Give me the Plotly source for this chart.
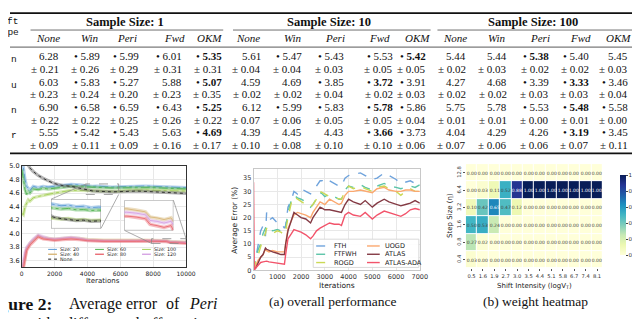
import plotly.graph_objects as go

W, H = 640, 319
def X(p): return p / W
def Y(p): return 1 - p / H

# ---------------- table data ----------------
group_titles = ["Sample Size: 1", "Sample Size: 10", "Sample Size: 100"]
method_names = ["None", "Win", "Peri", "Fwd", "OKM"]
row_tails = ["n", "u", "n", "r"]

mean_ss1 = [[6.28, 5.89, 5.99, 6.01, 5.35], [6.03, 5.83, 5.27, 5.88, 5.07],
            [6.90, 6.58, 6.59, 6.43, 5.25], [5.55, 5.42, 5.43, 5.63, 4.69]]
std_ss1 = [[0.21, 0.26, 0.29, 0.31, 0.31], [0.23, 0.24, 0.20, 0.23, 0.35],
           [0.22, 0.22, 0.25, 0.26, 0.22], [0.09, 0.11, 0.09, 0.16, 0.17]]
mark_ss1 = [[0, 1, 1, 1, 1], [0, 1, 1, 0, 1], [0, 1, 1, 1, 1], [0, 1, 1, 0, 1]]
best_ss1 = [4, 4, 4, 4]

mean_ss10 = [[5.61, 5.47, 5.43, 5.53, 5.42], [4.59, 4.69, 3.85, 3.72, 3.91],
             [6.12, 5.99, 5.83, 5.78, 5.86], [4.39, 4.45, 4.43, 3.66, 3.73]]
std_ss10 = [[0.04, 0.04, 0.03, 0.05, 0.05], [0.02, 0.02, 0.04, 0.02, 0.03],
            [0.07, 0.06, 0.05, 0.05, 0.04], [0.10, 0.08, 0.10, 0.10, 0.06]]
mark_ss10 = [[0, 1, 1, 1, 1], [0, 0, 1, 1, 1], [0, 1, 1, 1, 1], [0, 0, 0, 1, 1]]
best_ss10 = [4, 3, 3, 3]

mean_ss100 = [[5.44, 5.44, 5.38, 5.40, 5.45], [4.27, 4.68, 3.39, 3.33, 3.46],
              [5.75, 5.78, 5.53, 5.48, 5.58], [4.04, 4.29, 4.26, 3.19, 3.45]]
std_ss100 = [[0.02, 0.03, 0.02, 0.02, 0.03], [0.02, 0.02, 0.03, 0.03, 0.04],
             [0.01, 0.01, 0.00, 0.01, 0.00], [0.07, 0.06, 0.06, 0.07, 0.11]]
mark_ss100 = [[0, 0, 1, 1, 0], [0, 0, 1, 1, 1], [0, 0, 1, 1, 1], [0, 0, 0, 1, 1]]
best_ss100 = [2, 3, 3, 3]

# ---------------- Figure 2 (buffer sizes) data ----------------
it_upper = [0, 100, 200, 300, 400, 500, 700, 1000, 1300, 1600, 2000, 2500, 3000, 3500,
            4000, 4300, 4600, 4900, 5200, 5500, 5800, 6500, 7000, 7500, 8000, 8500, 9000, 9500, 10000]
err_size20 = [5.15, 4.95, 4.80, 4.70, 4.66, 4.64, 4.70, 4.68, 4.70, 4.69, 4.70, 4.71, 4.73, 4.72,
              4.705, 4.700, 4.703, 4.695, 4.697, 4.690, 4.693, 4.700, 4.710, 4.705, 4.700, 4.695, 4.690, 4.685, 4.680]
err_size60 = [4.95, 4.80, 4.65, 4.58, 4.62, 4.60, 4.66, 4.65, 4.67, 4.66, 4.67, 4.68, 4.70, 4.695,
              4.688, 4.683, 4.686, 4.679, 4.680, 4.675, 4.677, 4.680, 4.685, 4.680, 4.680, 4.675, 4.670, 4.665, 4.660]
err_size100 = [4.30, 4.28, 4.40, 4.45, 4.50, 4.48, 4.53, 4.55, 4.57, 4.58, 4.60, 4.62, 4.64, 4.64,
               4.635, 4.630, 4.632, 4.625, 4.627, 4.622, 4.624, 4.640, 4.645, 4.645, 4.640, 4.640, 4.635, 4.635, 4.630]
err_none = [5.40, 5.25, 5.15, 5.05, 5.00, 4.97, 4.92, 4.86, 4.82, 4.78, 4.74, 4.71, 4.70, 4.67,
            4.640, 4.632, 4.628, 4.622, 4.624, 4.618, 4.620, 4.630, 4.630, 4.625, 4.620, 4.615, 4.610, 4.600, 4.595]

it_lower = [0, 100, 200, 300, 500, 700, 1000, 1300, 1600, 2000, 2500, 3000, 3500, 4000, 5000,
            6000, 7000, 7500, 8000, 8400, 8800, 9000, 9300, 9600, 9900, 10000]
err_size40 = [3.40, 3.55, 3.70, 3.78, 3.86, 3.90, 3.97, 3.94, 3.93, 3.92, 3.93, 3.94, 3.93, 3.915, 3.905,
              3.900, 3.905, 3.905, 3.905, 3.902, 3.898, 3.886, 3.884, 3.880, 3.884, 3.875]
err_size80 = [3.35, 3.50, 3.65, 3.75, 3.83, 3.88, 3.95, 3.92, 3.91, 3.90, 3.91, 3.92, 3.91, 3.895, 3.885,
              3.880, 3.885, 3.888, 3.888, 3.886, 3.882, 3.869, 3.866, 3.862, 3.866, 3.855]
err_size120 = [3.45, 3.60, 3.72, 3.80, 3.87, 3.92, 3.98, 3.95, 3.93, 3.92, 3.93, 3.945, 3.93, 3.905, 3.895,
               3.890, 3.895, 3.897, 3.897, 3.895, 3.891, 3.878, 3.876, 3.872, 3.876, 3.868]

zoom1_x = [3900, 5900]
zoom1_y = [4.58, 4.735]
zoom2_x = [7900, 10000]
zoom2_y = [3.855, 3.925]

# ---------------- (a) overall performance data ----------------
it_a = [0, 30, 100, 200, 300, 400, 500, 550, 650, 800, 1000, 1150, 1300, 1350, 1450, 1600, 1700, 1850,
        2000, 2200, 2400, 2500, 2650, 2800, 2900, 3000, 3200, 3400, 3600, 3700, 3850, 4000, 4200, 4500,
        4700, 5000, 5200, 5500, 5700, 6000, 6200, 6400, 6600, 6800, 7000]
err_fth = [0, 2, 5, 10, 15, 17, 13, 22, 19, 20, 18, 18, 16, 17, 24, 27, 30, 29, 31, 30, 29, 30, 32, 34,
           34, 33, 34, 33, 32, 32, 35, 36, 36.5, 37, 36, 34.5, 35, 37, 36, 34.5, 33, 33.5, 34, 33, 33.5]
err_ftfwh = [0, 2, 5, 8, 10, 14, 16, 17, 16, 15, 15.5, 15, 14.5, 16, 22, 27, 28.5, 27.5, 27, 26, 24, 25,
             27, 29.5, 29, 28, 29, 28, 27, 27, 30.5, 32, 31.5, 32.5, 31.5, 30.5, 32, 33, 32, 31.5, 31,
             31.5, 32, 31.5, 32.5]
err_rogd = [0, 1.5, 4, 6, 9, 12, 14, 16, 15, 14, 15, 14.5, 13.5, 15, 20, 26, 28, 27, 26, 25, 24, 25, 27,
            30, 29.5, 29, 28, 27.5, 27, 27, 30, 32, 31, 32, 31, 30, 31.5, 32, 31, 30, 28.5, 30, 31, 30, 30]
err_uogd = [0, 1, 2, 4, 5, 6, 8, 7.5, 7, 7.5, 7, 7, 7, 10, 16, 19, 21, 22, 21.5, 21, 20, 22, 24, 26,
            25.5, 25, 27, 26, 25, 25.5, 28.5, 30, 30, 30.5, 30, 29.5, 31, 31.5, 30.5, 30, 30, 30.5, 30.5, 30, 30]
err_atlas = [0, 0.5, 1, 3, 5, 6, 8.5, 8, 7.5, 7, 6.5, 6, 6, 10, 15, 19, 22, 21, 20, 19.5, 18, 20, 22, 24,
             23.5, 23, 23, 22.5, 22, 22, 25, 27, 26, 25, 26.5, 24, 25.5, 27, 26, 25, 24.5, 25, 25.5, 26.5, 25.5]
err_atlas_ada = [33.5, 0, 1, 2, 3, 3.2, 3.5, 3.5, 3.2, 3, 2.8, 2.6, 2.3, 6, 12, 14, 15.5, 15, 14.5, 13.5,
                 12, 13, 15, 16, 16.5, 17, 18, 17.5, 17.5, 17, 21, 22, 21, 20.5, 22, 19.5, 21, 22.5, 22,
                 21, 20.5, 21.5, 23, 23.5, 23]

# ---------------- (b) weight heatmap data ----------------
hm_x = ["0.5", "1.6", "1.9", "2.7", "3.0", "3.5", "4.4", "5.1", "5.8", "6.7", "7.4", "8.1"]
hm_y = ["12.8", "6.4", "3.2", "1.6", "0.8", "0.4"]
hm_z = [
    [0.00, 0.00, 0.00, 0.00, 0.00, 0.00, 0.00, 0.00, 0.00, 0.00, 0.00, 0.00],
    [0.00, 0.03, 0.11, 0.52, 0.88, 1.00, 1.00, 1.00, 1.00, 1.00, 1.00, 1.00],
    [0.10, 0.42, 0.65, 0.47, 0.12, 0.00, 0.00, 0.00, 0.00, 0.00, 0.00, 0.00],
    [0.50, 0.53, 0.24, 0.00, 0.00, 0.00, 0.00, 0.00, 0.00, 0.00, 0.00, 0.00],
    [0.27, 0.02, 0.00, 0.00, 0.00, 0.00, 0.00, 0.00, 0.00, 0.00, 0.00, 0.00],
    [0.03, 0.00, 0.00, 0.00, 0.00, 0.00, 0.00, 0.00, 0.00, 0.00, 0.00, 0.00],
]

# ================= build =================
annotations = []
shapes = []
SERIF = "Liberation Serif"
SANS = "DejaVu Sans"

def add_text(x, y, text, size, family=SERIF, xanchor="center", yanchor="middle",
             color="#111", angle=0):
    annotations.append(dict(x=X(x), y=Y(y), xref="paper", yref="paper", text=text,
                            showarrow=False, xanchor=xanchor, yanchor=yanchor, textangle=angle,
                            borderpad=0, font=dict(family=family, size=size, color=color)))

def hline(x0, x1, y, w, color="#111", dash="solid"):
    shapes.append(dict(type="line", xref="paper", yref="paper", x0=X(x0), x1=X(x1),
                       y0=Y(y), y1=Y(y), line=dict(color=color, width=w, dash=dash)))

# ---- table ----
col_right = [[51, 93, 133, 177, 218], [258, 300, 342, 393, 426], [467, 509, 552, 593, 633]]
head_center = [[39, 82, 120, 168, 204], [243, 289, 332, 378, 417], [455, 498, 542, 583, 622]]
group_center = [118, 326, 535]
group_span = [(21, 218), (228, 430), (437, 640)]
mean_y = [45.5, 71.5, 97.5, 123.5]
std_y = [58.5, 84.5, 110.5, 136.5]

hline(0, 640, 1.2, 1.6)
hline(0, 640, 36, 0.7)
hline(0, 640, 145, 1.6)
add_text(10, 10, "Shift", 9.5, family="Liberation Mono", xanchor="right")
add_text(10, 21, "Type", 9.5, family="Liberation Mono", xanchor="right")
for i, t in enumerate(row_tails):
    add_text(8, mean_y[i] + 3.5, t, 9.5, family="Liberation Mono", xanchor="right")

table_groups = [(mean_ss1, std_ss1, mark_ss1, best_ss1),
                (mean_ss10, std_ss10, mark_ss10, best_ss10),
                (mean_ss100, std_ss100, mark_ss100, best_ss100)]
for g, (means, stds, marks, best) in enumerate(table_groups):
    add_text(group_center[g], 10, "<b>%s</b>" % group_titles[g], 12.5)
    hline(group_span[g][0], group_span[g][1], 18.5, 0.6)
    for j, m in enumerate(method_names):
        add_text(head_center[g][j], 27, "<i>%s</i>" % m, 11)
    for i in range(4):
        for j in range(5):
            v = "%.2f" % means[i][j]
            if best[i] == j:
                v = "<b>%s</b>" % v
            if marks[i][j]:
                v = "• " + v
            add_text(col_right[g][j], mean_y[i], v, 11, xanchor="right")
            add_text(col_right[g][j], std_y[i], "± %.2f" % stds[i][j], 11, xanchor="right")

fig = go.Figure()

# ---- Figure 2 plot ----
upper = [("Size: 20", err_size20, "#5b9bd5", "dashdot"),
         ("Size: 60", err_size60, "#4fb24f", "dashdot"),
         ("Size: 100", err_size100, "#a3cf55", "dashdot"),
         ("None", err_none, "#222222", "dot")]
lower = [("Size: 40", err_size40, "#d8b77a", "solid"),
         ("Size: 120", err_size120, "#d6a3e3", "solid"),
         ("Size: 80", err_size80, "#ea6b74", "solid")]

def band_color(c, a):
    c = c.lstrip("#")
    return "rgba(%d,%d,%d,%.2f)" % (int(c[0:2], 16), int(c[2:4], 16), int(c[4:6], 16), a)

def add_series(xs, ys, color, dash, xa, ya, bw=3.2, lw=0.9):
    bc = band_color(color, 0.45) if color != "#222222" else "rgba(120,120,120,0.55)"
    fig.add_trace(go.Scatter(x=xs, y=ys, mode="lines", line=dict(color=bc, width=bw),
                             xaxis=xa, yaxis=ya, hoverinfo="skip", showlegend=False))
    fig.add_trace(go.Scatter(x=xs, y=ys, mode="lines", line=dict(color=color, width=lw, dash=dash),
                             xaxis=xa, yaxis=ya, hoverinfo="skip", showlegend=False))

for name, ys, c, d in upper:
    add_series(it_upper, ys, c, d, "x", "y")
    add_series(it_upper, ys, c, d, "x2", "y2", bw=3.5)
for name, ys, c, d in lower:
    add_series(it_lower, ys, c, d, "x", "y")
    add_series(it_lower, ys, c, d, "x3", "y3", bw=3.5)

# ---- (a) ----
series_a = [("FTH", err_fth, "#6fa3dc", "dash"),
            ("FTFWH", err_ftfwh, "#5cc4a8", "dash"),
            ("ROGD", err_rogd, "#cbd955", "dash"),
            ("UOGD", err_uogd, "#fba86f", "solid"),
            ("ATLAS", err_atlas, "#843a44", "solid"),
            ("ATLAS-ADA", err_atlas_ada, "#f2546b", "solid")]
for name, ys, c, d in series_a:
    fig.add_trace(go.Scatter(x=it_a, y=ys, mode="lines", name=name,
                             line=dict(color=c, width=1.4, dash=d), xaxis="x4", yaxis="y4",
                             showlegend=False))

# ---- (b) ----
fig.add_trace(go.Heatmap(z=hm_z, x=hm_x, y=hm_y, xaxis="x5", yaxis="y5", colorscale="YlGnBu",
                         zmin=0, zmax=1, xgap=1, ygap=1, texttemplate="%{z:.2f}",
                         textfont=dict(size=4.5, family=SANS),
                         colorbar=dict(x=X(613), xanchor="left", y=Y(157), yanchor="top",
                                       len=103 / H, lenmode="fraction", thickness=6,
                                       outlinewidth=0, tickvals=[0, 0.2, 0.4, 0.6, 0.8, 1.0],
                                       tickformat=".1f", ticks="outside", ticklen=2,
                                       tickfont=dict(size=5.5, family=SANS, color="#333"))))

# ---- axes ----
grid = "#e8e8e8"
lay = dict(
    width=W, height=H, margin=dict(l=0, r=0, t=0, b=0),
    paper_bgcolor="white", plot_bgcolor="white", showlegend=False,
    xaxis=dict(domain=[X(12), X(180)], range=[0, 10000], tickvals=[0, 2000, 4000, 6000, 8000, 10000],
               tickformat="d", showline=True, mirror=True, linecolor="#333", linewidth=0.8, gridcolor=grid,
               zeroline=False, tickangle=0, tickfont=dict(size=6, family=SANS, color="#222"), anchor="y"),
    yaxis=dict(domain=[Y(262), Y(158)], range=[3.5, 5.0], tickvals=[3.6, 3.8, 4.0, 4.2, 4.4, 4.6, 4.8, 5.0],
               tickformat=".1f", showline=True, mirror=True, linecolor="#333", linewidth=0.8,
               gridcolor=grid, zeroline=False, tickfont=dict(size=6.5, family=SANS, color="#222"), anchor="x"),
    xaxis2=dict(domain=[X(42), X(93)], range=zoom1_x, showticklabels=False, showgrid=False,
                zeroline=False, anchor="y2"),
    yaxis2=dict(domain=[Y(222), Y(192)], range=zoom1_y, showticklabels=False, showgrid=False,
                zeroline=False, anchor="x2"),
    xaxis3=dict(domain=[X(117), X(167)], range=zoom2_x, showticklabels=False, showgrid=False,
                zeroline=False, anchor="y3"),
    yaxis3=dict(domain=[Y(224), Y(193)], range=zoom2_y, showticklabels=False, showgrid=False,
                zeroline=False, anchor="x3"),
    xaxis4=dict(domain=[X(249), X(419)], range=[0, 7000], tickvals=list(range(0, 7001, 1000)),
                tickformat="d", showline=True, mirror=True, linecolor="#c8c8c8", linewidth=0.8, gridcolor=grid,
                zeroline=False, tickangle=0, tickfont=dict(size=6.5, family=SANS, color="#333"), anchor="y4"),
    yaxis4=dict(domain=[Y(265), Y(161)], range=[0, 38.5], tickvals=list(range(0, 36, 5)),
                showline=True, mirror=True, linecolor="#c8c8c8", linewidth=0.8, gridcolor=grid,
                zeroline=False, tickfont=dict(size=6.5, family=SANS, color="#333"), anchor="x4"),
    xaxis5=dict(domain=[X(466), X(606)], showgrid=False, zeroline=False, ticks="outside", ticklen=2,
                tickangle=0, tickcolor="#555", tickfont=dict(size=5.2, family=SANS, color="#333"),
                anchor="y5"),
    yaxis5=dict(domain=[Y(263), Y(156)], showgrid=False, zeroline=False, autorange="reversed",
                ticks="outside", ticklen=2, tickcolor="#555", tickangle=-90,
                tickfont=dict(size=5.2, family=SANS, color="#333"), anchor="x5"),
)
fig.update_layout(**lay)

# ---- insets: white background, dashed zoom boxes, connectors ----
for xa, ya, xr, yr in (("x2", "y2", zoom1_x, zoom1_y), ("x3", "y3", zoom2_x, zoom2_y)):
    shapes.append(dict(type="rect", xref=xa, yref=ya, x0=xr[0], x1=xr[1], y0=yr[0], y1=yr[1],
                       layer="below", fillcolor="white", line=dict(color="#777", width=0.8)))
    shapes.append(dict(type="rect", xref="x", yref="y", x0=xr[0], x1=xr[1], y0=yr[0], y1=yr[1],
                       line=dict(color="#888", width=0.8, dash="dash")))

def main_to_paper(xv, yv):
    dx, dy = lay["xaxis"]["domain"], lay["yaxis"]["domain"]
    rx, ry = lay["xaxis"]["range"], lay["yaxis"]["range"]
    return (dx[0] + (xv - rx[0]) / (rx[1] - rx[0]) * (dx[1] - dx[0]),
            dy[0] + (yv - ry[0]) / (ry[1] - ry[0]) * (dy[1] - dy[0]))

def connect(inset_x, inset_y, cx, cy, box_x, box_y):
    ix = inset_x[cx]
    iy = inset_y[cy]
    bx, by = main_to_paper(box_x[cx], box_y[cy])
    shapes.append(dict(type="line", xref="paper", yref="paper", x0=ix, y0=iy, x1=bx, y1=by,
                       line=dict(color="#888", width=0.7)))

connect(lay["xaxis2"]["domain"], lay["yaxis2"]["domain"], 0, 1, zoom1_x, zoom1_y)
connect(lay["xaxis2"]["domain"], lay["yaxis2"]["domain"], 1, 0, zoom1_x, zoom1_y)
connect(lay["xaxis3"]["domain"], lay["yaxis3"]["domain"], 0, 0, zoom2_x, zoom2_y)
connect(lay["xaxis3"]["domain"], lay["yaxis3"]["domain"], 1, 1, zoom2_x, zoom2_y)

# ---- manual legends ----
def legend_item(x_line, y, length, color, dash, label, size, width=1.2, text_gap=3):
    shapes.append(dict(type="line", xref="paper", yref="paper", x0=X(x_line), x1=X(x_line + length),
                       y0=Y(y), y1=Y(y), line=dict(color=color, width=width, dash=dash)))
    add_text(x_line + length + text_gap, y, label, size, family=SANS, xanchor="left", color="#222")

leg1 = [("Size: 20", "#5b9bd5", "dashdot", 39, 243.5), ("Size: 40", "#d8b77a", "solid", 39, 248.5),
        ("None", "#222222", "dot", 39, 253.5), ("Size: 60", "#4fb24f", "dashdot", 87, 243.5),
        ("Size: 80", "#ea6b74", "solid", 87, 248.5), ("Size: 100", "#a3cf55", "dashdot", 135, 243.5),
        ("Size: 120", "#d6a3e3", "solid", 135, 248.5)]
for lab, c, d, lx, ly in leg1:
    legend_item(lx, ly, 9, c, d, lab, 4.8, width=1.4 if d == "solid" else 1.0, text_gap=2)

shapes.append(dict(type="rect", xref="paper", yref="paper", x0=X(310), x1=X(418), y0=Y(262), y1=Y(233),
                   fillcolor="rgba(255,255,255,0.9)", line=dict(color="#d0d0d0", width=0.8)))
for k, (name, ys, c, d) in enumerate(series_a):
    col, row = divmod(k, 3)
    legend_item(313 + col * 52, 240 + row * 8.5, 13, c, d, name, 6.5, width=1.4, text_gap=4)

# ---- axis titles ----
add_text(95, 276, "Iterations", 7, family=SANS, color="#222")
add_text(334, 281, "Iterations", 7.5, family=SANS, color="#222")
add_text(230, 213, "Average Error (%)", 7.5, family=SANS, color="#222", angle=-90)
add_text(450, 209, "Step Size (η)", 7, family=SANS, color="#222", angle=-90)
add_text(536, 281, "Shift Intensity (logV<sub>T</sub>)", 7, family=SANS, color="#222")

# ---- captions ----
add_text(44, 299, "<b>Figure 2:</b>", 17.5, xanchor="right")
for wx, wd in ((59, "Average"), (118, "error"), (158, "of"), (182, "<i>Peri</i>")):
    add_text(wx, 299, wd, 16, xanchor="left")
for wx, wd in ((0, "t"), (15, "with"), (55, "different"), (128, "buffer"), (180, "sizes")):
    add_text(wx, 320, wd, 16, xanchor="left")
add_text(330, 297, "(a) overall performance", 13.5)
add_text(537, 297, "(b) weight heatmap", 13.5)

fig.update_layout(annotations=annotations, shapes=shapes)
fig.write_html("out.html")
